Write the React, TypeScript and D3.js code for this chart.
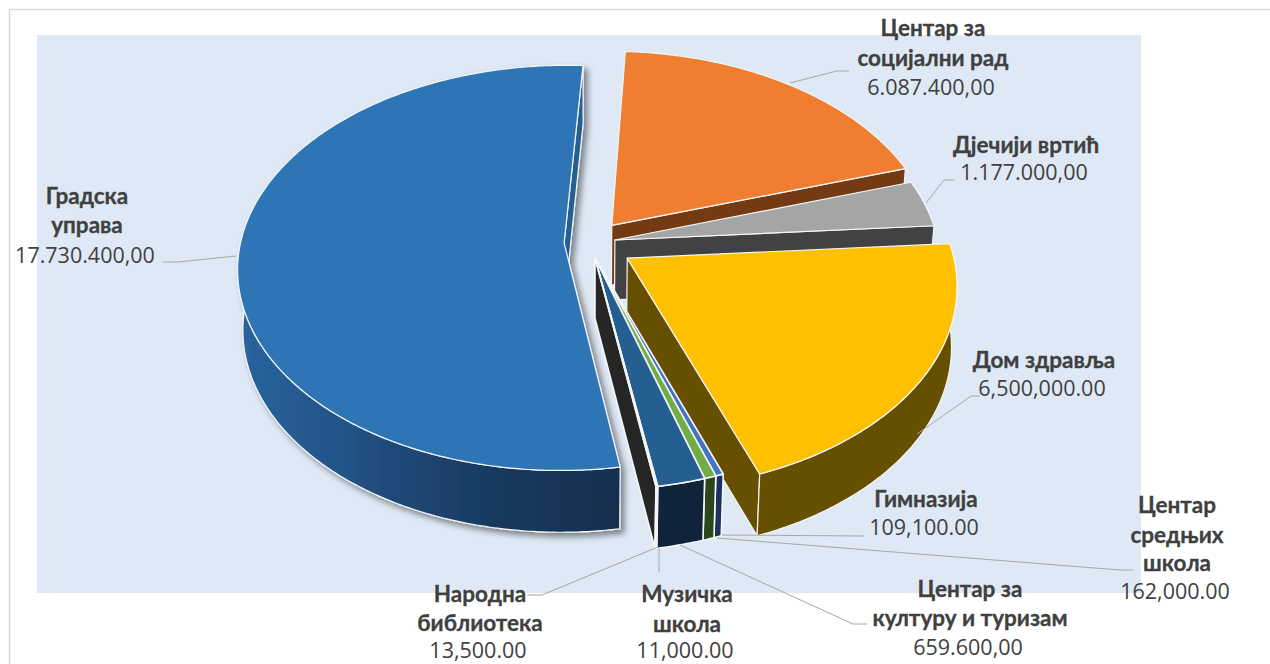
import React from 'react';
import * as d3 from 'd3';

// pie data, clockwise from the top
const names = [
  ['Центар за', 'социјални рад'],
  ['Дјечији вртић'],
  ['Дом здравља'],
  ['Гимназија'],
  ['Центар', 'средњих', 'школа'],
  ['Центар за', 'културу и туризам'],
  ['Музичка', 'школа'],
  ['Народна', 'библиотека'],
  ['Градска', 'управа'],
];
// last value is read from the drawn slice (about 192 degrees), it is smaller than its printed label
const values = [6087400, 1177000, 6500000, 109100, 162000, 659600, 11000, 13500, 16920000];
const valueLabels = [
  '6.087.400,00', '1.177.000,00', '6,500,000.00', '109,100.00', '162,000.00',
  '659.600,00', '11,000.00', '13,500.00', '17.730.400,00',
];
// how far each slice is pulled out, in pie radii (across, away from viewer)
const pullX = [0.068, 0.077, 0.114, 0.0154, 0.0154, 0.0154, 0.0154, 0.0154, -0.08];
const pullY = [0.0995, 0.025, -0.065, -0.065, -0.065, -0.065, -0.065, -0.065, 0.01];

const topColors = ['#F07E30', '#A5A5A5', '#FFC000', '#4472C4', '#70AD47', '#255E91', '#9E480E', '#636363', '#2E75B6'];
const wallColors = ['#733A14', '#424242', '#665000', '#1C315E', '#2B451C', '#0F243A', '#3F1D06', '#262626', '#255E91'];

// label placement: centre x, baseline of every line, leader polyline
const labelLayout = [
  { x: 933, y: [36, 66, 95], leader: [[790, 83], [837, 71], [849, 71]] },
  { x: 1026, y: [153, 180], leader: [[926, 203], [944, 180], [955, 180]] },
  { x: 1044, y: [368, 396], leader: [[917, 434], [971, 396], [980, 396]] },
  { x: 926, y: [507, 535], leader: [[722, 535], [864, 536]] },
  { x: 1177, y: [513, 543, 571, 599], leader: [[717, 538], [1120, 570], [1133, 570]] },
  { x: 970, y: [597, 626, 655], leader: [[680, 545], [853, 624], [867, 624]] },
  { x: 687, y: [602, 632, 657.5], leader: [[659, 547], [659, 572]] },
  { x: 480, y: [602, 631, 657.5], leader: [[658, 547], [542, 595], [527, 595]] },
  { x: 87, y: [204, 233, 263], leader: [[236, 256], [178, 262], [163, 262]] },
];

const WIDTH = 1270;
const HEIGHT = 664;
const cx = 590;
const cy = 245;
const radiusX = 324;
const radiusY = 200;
const persp = 0.123;
const depth = 60;
const startDeg = 3.2;

const rad = (deg: number) => (deg * Math.PI) / 180;

const project = (X: number, Y: number, bottom = false): [number, number] => {
  const w = 1 + persp * Y;
  let sx = cx + (radiusX * X) / w;
  let sy = cy - (radiusY * Y) / w;
  if (bottom) {
    sx = cx + (sx - cx) * 0.985;
    sy += depth * (1 - 0.03 * Y);
  }
  return [sx, sy];
};

const linePath = d3.line<[number, number]>().curve(d3.curveLinear);
const closed = (pts: [number, number][]) => linePath(pts) + 'Z';

const pie = d3
  .pie<number>()
  .sort(null)
  .value((d) => d)
  .startAngle(rad(startDeg))
  .endAngle(rad(startDeg) + 2 * Math.PI);

const arcs = pie(values);

const Slice = ({ index }: { index: number }) => {
  const arc = arcs[index];
  const point = (a: number, r: number, bottom = false) =>
    project(pullX[index] + r * Math.sin(a), pullY[index] + r * Math.cos(a), bottom);

  const steps = Math.max(2, Math.ceil((arc.endAngle - arc.startAngle) / 0.01));
  const angles = d3.range(steps + 1).map((i) => arc.startAngle + ((arc.endAngle - arc.startAngle) * i) / steps);

  const top = closed([point(0, 0), ...angles.map((a) => point(a, 1))]);

  // the cut face at the end of the slice looks at the viewer while sin(end) > 0
  const endWall =
    Math.sin(arc.endAngle) > 0
      ? closed([point(0, 0), point(arc.endAngle, 1), point(arc.endAngle, 1, true), point(0, 0, true)])
      : null;

  // rim wall runs a bit past the sides so it meets the top tangentially, the top hides the extra part
  const rimAngles = angles.filter((a) => a >= rad(87) && a <= rad(290));
  const rimWall =
    rimAngles.length > 1
      ? closed([...rimAngles.map((a) => point(a, 1)), ...rimAngles.slice().reverse().map((a) => point(a, 1, true))])
      : null;

  const isMain = index === values.length - 1;
  const thin = values[index] < 1000000 ? 1.6 : 1.2;
  return (
    <g stroke="#F4F6F8" strokeWidth={thin} strokeLinejoin="round" filter={isMain ? 'url(#pieShadow)' : undefined}>
      {endWall && <path d={endWall} fill={wallColors[index]} />}
      {rimWall && <path d={rimWall} fill={isMain ? 'url(#mainWall)' : wallColors[index]} />}
      <path d={top} fill={topColors[index]} />
    </g>
  );
};

export default function App() {
  return (
    <svg
      width={WIDTH}
      height={HEIGHT}
      viewBox={`0 0 ${WIDTH} ${HEIGHT}`}
      style={{ position: 'absolute', left: 0, top: 0, display: 'block', background: '#fff' }}
      fontFamily="'Open Sans', sans-serif"
    >
      <defs>
        <linearGradient id="mainWall" gradientUnits="userSpaceOnUse" x1={236} x2={622} y1={0} y2={0}>
          <stop offset="0" stopColor="#2A649E" />
          <stop offset="0.25" stopColor="#23558A" />
          <stop offset="0.6" stopColor="#193D63" />
          <stop offset="1" stopColor="#122E4E" />
        </linearGradient>
        <filter id="pieShadow" x="-10%" y="-10%" width="125%" height="125%">
          <feDropShadow dx={4} dy={4} stdDeviation={3} floodColor="#000" floodOpacity={0.45} />
        </filter>
      </defs>

      <path d={`M9.5 ${HEIGHT}V9.5H${WIDTH}`} fill="none" stroke="#D9D9D9" strokeWidth={1.5} />
      <rect x={37} y={35} width={1104} height={558} fill="#DEE9F5" />

      {values.map((_, i) => (
        <Slice key={i} index={i} />
      ))}

      {labelLayout.map((l, i) => (
        <path
          key={i}
          d={linePath(l.leader as [number, number][]) as string}
          fill="none"
          stroke="#A6A6A6"
          strokeWidth={1}
        />
      ))}

      {labelLayout.map((l, i) => (
        <text key={i} x={l.x} textAnchor="middle" fill="#404040" fontSize={21}>
          {names[i].map((line, j) => (
            <tspan
              key={j}
              x={l.x}
              y={l.y[j]}
              fontWeight={700}
              fontSize={22.5}
              fontFamily="Lato, sans-serif"
              stroke="#404040"
              strokeWidth={0.3}
            >
              {line}
            </tspan>
          ))}
          <tspan x={l.x - 2} y={l.y[names[i].length]} fontSize={21.5}>
            {valueLabels[i]}
          </tspan>
        </text>
      ))}
    </svg>
  );
}
